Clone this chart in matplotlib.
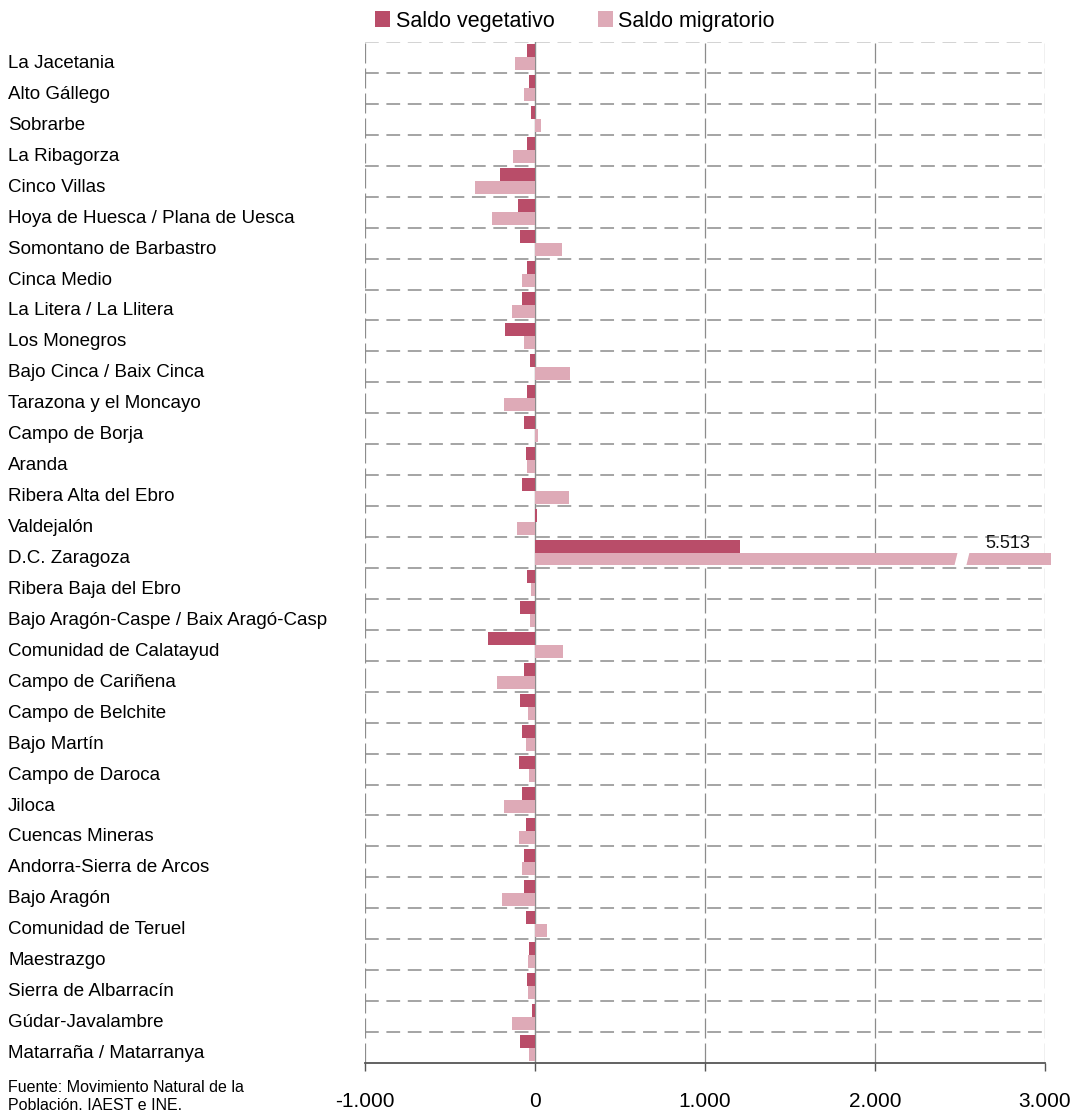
import numpy as np
import matplotlib
matplotlib.use('Agg')
import matplotlib.pyplot as plt
import matplotlib.transforms as mtransforms
from matplotlib.patches import Polygon

plt.rcParams['font.family'] = ['Liberation Sans', 'DejaVu Sans']

# comarcas, de arriba abajo
comarcas = [
    'La Jacetania', 'Alto Gállego', 'Sobrarbe', 'La Ribagorza', 'Cinco Villas',
    'Hoya de Huesca / Plana de Uesca', 'Somontano de Barbastro', 'Cinca Medio',
    'La Litera / La Llitera', 'Los Monegros', 'Bajo Cinca / Baix Cinca',
    'Tarazona y el Moncayo', 'Campo de Borja', 'Aranda', 'Ribera Alta del Ebro',
    'Valdejalón', 'D.C. Zaragoza', 'Ribera Baja del Ebro',
    'Bajo Aragón-Caspe / Baix Aragó-Casp', 'Comunidad de Calatayud',
    'Campo de Cariñena', 'Campo de Belchite', 'Bajo Martín', 'Campo de Daroca',
    'Jiloca', 'Cuencas Mineras', 'Andorra-Sierra de Arcos', 'Bajo Aragón',
    'Comunidad de Teruel', 'Maestrazgo', 'Sierra de Albarracín',
    'Gúdar-Javalambre', 'Matarraña / Matarranya',
]

saldo_vegetativo = [
    -45, -33, -22, -45, -204, -98, -86, -45, -74, -174, -27,
    -45, -63, -51, -74, 14, 1206, -45, -86, -274, -63, -86,
    -74, -92, -74, -51, -63, -63, -51, -33, -45, -16, -86,
]

saldo_migratorio = [
    -116, -63, 37, -127, -351, -251, 161, -74, -133, -63, 208,
    -180, 20, -45, 202, -104, 5513, -22, -27, 167, -221, -39,
    -51, -33, -180, -92, -74, -192, 73, -39, -39, -133, -33,
]

xticks = [-1000, 0, 1000, 2000, 3000]
xtick_labels = ['-1.000', '0', '1.000', '2.000', '3.000']

col_veg = '#b94d69'
col_mig = '#deaab7'
grid_col = '#8c8c8c'

fig = plt.figure(figsize=(10.75, 11.17), dpi=100)
ax = fig.add_axes([365 / 1075, 1 - 1063 / 1117, 680 / 1075, (1063 - 42) / 1117])

y = np.arange(len(comarcas))
h = 0.42
xmax = 3000
# barras que se salen de la escala se cortan un poco después del máximo
mig_plot = np.minimum(np.array(saldo_migratorio, dtype=float), xmax + 35)

ax.barh(y - h / 2, saldo_vegetativo, height=h, color=col_veg, zorder=3,
        label='Saldo vegetativo')
bars_mig = ax.barh(y + h / 2, mig_plot, height=h, color=col_mig, zorder=3,
                   label='Saldo migratorio')
for b in bars_mig:
    b.set_clip_on(False)

# corte de la barra de Zaragoza
iz = int(np.argmax(saldo_migratorio))
yb = iz + h + 0.05
yt = iz - 0.05
cut = Polygon([(2465, yb), (2535, yb), (2558, yt), (2488, yt)], closed=True,
              facecolor='white', edgecolor='none', zorder=4)
ax.add_patch(cut)
ax.text(2780, iz - 0.02, '5.513', ha='center', va='bottom', fontsize=13,
        color='#111111', zorder=5)

ax.set_xlim(-1000, 3000)
ax.set_ylim(len(comarcas) - 0.5, -0.5)

# rejilla
for k in range(len(comarcas)):
    c = '#c8c8c8' if k == 0 else grid_col
    ax.axhline(k - 0.5, color=c, lw=1.1, dashes=(9, 5), zorder=1)
for xv in [-1000, 1000, 2000, 3000]:
    ax.axvline(xv, color=grid_col, lw=0.9, dashes=(16, 4), zorder=1)
ax.axvline(0, color=grid_col, lw=1.0, zorder=2)

for s in ['top', 'left', 'right']:
    ax.spines[s].set_visible(False)
ax.spines['bottom'].set_color('#555555')
ax.spines['bottom'].set_linewidth(1.3)
ax.spines['bottom'].set_zorder(6)

ax.set_xticks(xticks)
ax.set_xticklabels(xtick_labels, fontsize=15)
ax.tick_params(axis='x', direction='out', length=6, width=1, color='#555555',
               pad=15)

ax.set_yticks(y)
ax.set_yticklabels(comarcas, fontsize=13.5, ha='left')
ax.tick_params(axis='y', length=0, pad=(365 - 8) * 0.72)
# las etiquetas van algo por debajo del centro de la fila
shift = mtransforms.ScaledTranslation(0, -4 / 100, fig.dpi_scale_trans)
for lab in ax.get_yticklabels():
    lab.set_transform(lab.get_transform() + shift)

fig.legend(loc='center', bbox_to_anchor=(575 / 1075, 1 - 21 / 1117), ncol=2,
           frameon=False, fontsize=15.5, handlelength=0.7, handleheight=0.7,
           handletextpad=0.25, columnspacing=2.0, borderaxespad=0)

fig.text(8 / 1075, 1 - 1097 / 1117, 'Fuente: Movimiento Natural de la\nPoblación. IAEST e INE.',
         fontsize=11.5, va='center', ha='left', linespacing=1.25)

fig.savefig('out.png', dpi=100)
